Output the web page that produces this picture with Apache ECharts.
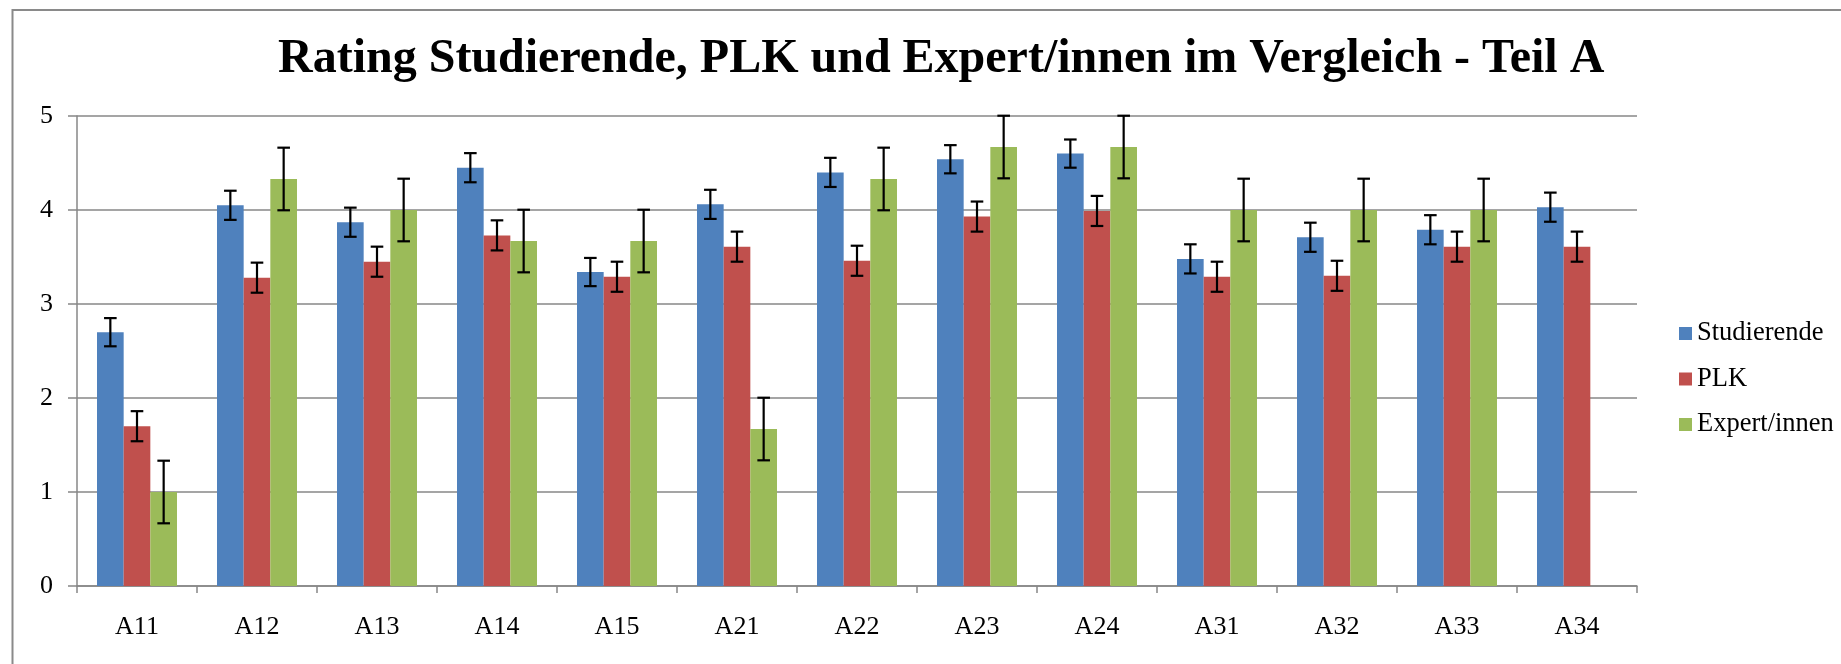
<!DOCTYPE html>
<html>
<head>
<meta charset="utf-8">
<script src="https://cdn.jsdelivr.net/npm/echarts@6/dist/echarts.min.js"></script>
<style>
  html, body { margin: 0; padding: 0; background: #ffffff; }
  #chart { width: 1841px; height: 664px; }
</style>
</head>
<body>
<div id="chart"></div>
<script>
// ---- data ----
const categories = ['A11','A12','A13','A14','A15','A21','A22','A23','A24','A31','A32','A33','A34'];
const studierende = [2.70, 4.05, 3.87, 4.45, 3.34, 4.06, 4.40, 4.54, 4.60, 3.48, 3.71, 3.79, 4.03];
const plk         = [1.70, 3.28, 3.45, 3.73, 3.29, 3.61, 3.46, 3.93, 3.99, 3.29, 3.30, 3.61, 3.61];
const experten    = [1.00, 4.33, 4.00, 3.67, 3.67, 1.67, 4.33, 4.67, 4.67, 4.00, 4.00, 4.00, null];
const studierendeErr = [0.15, 0.155, 0.155, 0.155, 0.15, 0.155, 0.155, 0.15, 0.15, 0.155, 0.155, 0.155, 0.155];
const plkErr         = [0.16, 0.16, 0.16, 0.16, 0.16, 0.16, 0.16, 0.16, 0.16, 0.16, 0.16, 0.16, 0.16];
const expertenErr    = [0.333, 0.333, 0.333, 0.333, 0.333, 0.333, 0.333, 0.333, 0.333, 0.333, 0.333, 0.333, null];
const seriesNames = ['Studierende', 'PLK', 'Expert/innen'];
const yTicks = { min: 0, max: 5, interval: 1 };
const titleText = 'Rating Studierende, PLK und Expert/innen im Vergleich - Teil A';

// ---- styling ----
const colors = ['#4F81BD', '#C0504D', '#9BBB59'];
const FONT = '"Liberation Serif", "Times New Roman", serif';
const BAR_FRAC = 0.2222;
const GRAY = '#878787';

const chart = echarts.init(document.getElementById('chart'), null, { renderer: 'canvas' });

function barSeries(name, values, color) {
  return {
    name: name,
    type: 'bar',
    data: values,
    barWidth: (BAR_FRAC * 100) + '%',
    barGap: '0%',
    itemStyle: { color: color },
    z: 2,
    animation: false
  };
}

function errSeries(name, values, errs, offset) {
  const data = [];
  values.forEach((v, i) => {
    if (v != null && errs[i] != null) data.push([i, v, errs[i]]);
  });
  return {
    name: name + '_err',
    type: 'custom',
    data: data,
    encode: { x: 0, y: 1 },
    z: 5,
    animation: false,
    silent: true,
    renderItem: function (params, api) {
      const i = api.value(0), v = api.value(1), e = api.value(2);
      const bw = api.size([1, 0])[0] * BAR_FRAC;
      const hi = api.coord([i, v + e]);
      const lo = api.coord([i, v - e]);
      const x = hi[0] + offset * bw;
      const cap = 6.3;
      const style = { stroke: '#000000', lineWidth: 2.2 };
      return {
        type: 'group',
        children: [
          { type: 'line', shape: { x1: x, y1: hi[1], x2: x, y2: lo[1] }, style: style },
          { type: 'line', shape: { x1: x - cap, y1: hi[1], x2: x + cap, y2: hi[1] }, style: style },
          { type: 'line', shape: { x1: x - cap, y1: lo[1], x2: x + cap, y2: lo[1] }, style: style }
        ]
      };
    }
  };
}

const option = {
  backgroundColor: '#ffffff',
  animation: false,
  title: {
    text: titleText,
    left: 278,
    top: 36,
    padding: 0,
    textStyle: { fontFamily: FONT, fontSize: 48, fontWeight: 'bold', color: '#000000' }
  },
  legend: {
    data: seriesNames,
    orient: 'vertical',
    left: 1679,
    top: 320,
    itemWidth: 13,
    itemHeight: 13,
    itemGap: 18.5,
    padding: 0,
    icon: 'rect',
    textStyle: { fontFamily: FONT, fontSize: 26.5, color: '#000000' }
  },
  grid: { left: 77, right: 204, top: 116, height: 470, containLabel: false },
  xAxis: {
    type: 'category',
    data: categories,
    boundaryGap: true,
    axisLine: { lineStyle: { color: GRAY, width: 1.5 } },
    axisTick: { show: true, alignWithLabel: false, interval: 0, length: 7, lineStyle: { color: GRAY, width: 1.5 } },
    axisLabel: { interval: 0, margin: 28, fontFamily: FONT, fontSize: 26, color: '#000000' },
    splitLine: { show: false }
  },
  yAxis: {
    type: 'value',
    min: yTicks.min,
    max: yTicks.max,
    interval: yTicks.interval,
    axisLine: { show: true, lineStyle: { color: GRAY, width: 1.5 } },
    axisTick: { show: true, length: 9, lineStyle: { color: GRAY, width: 1.5 } },
    axisLabel: { margin: 24, fontFamily: FONT, fontSize: 26, color: '#000000' },
    splitLine: { show: true, lineStyle: { color: GRAY, width: 1.5 } }
  },
  graphic: [
    {
      type: 'rect',
      left: 10, top: 7.5,
      shape: { x: 0, y: 0, width: 2000, height: 800 },
      style: { fill: 'none', stroke: '#8a8a8a', lineWidth: 2 },
      silent: true,
      z: -10
    }
  ],
  series: [
    barSeries(seriesNames[0], studierende, colors[0]),
    barSeries(seriesNames[1], plk, colors[1]),
    barSeries(seriesNames[2], experten, colors[2]),
    errSeries(seriesNames[0], studierende, studierendeErr, -1),
    errSeries(seriesNames[1], plk, plkErr, 0),
    errSeries(seriesNames[2], experten, expertenErr, 1)
  ]
};

chart.setOption(option);
</script>
</body>
</html>
